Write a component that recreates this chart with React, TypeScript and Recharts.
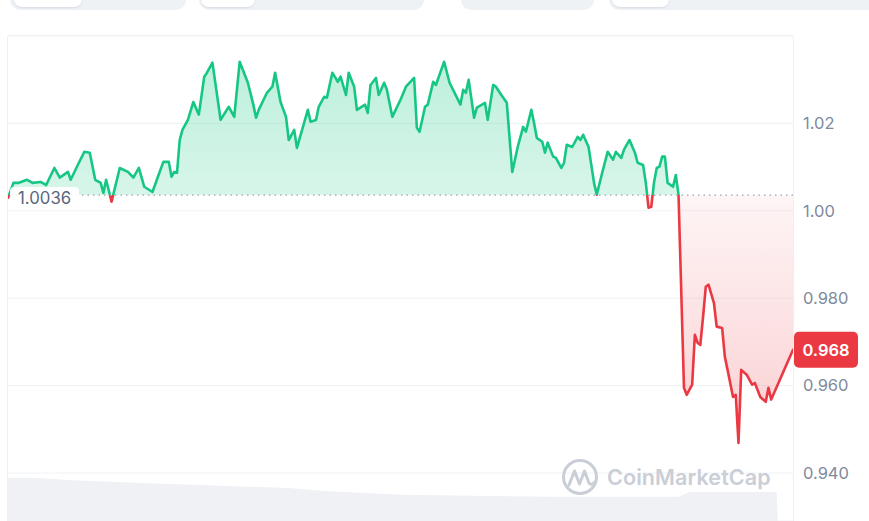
import React from 'react';
import { ComposedChart, Area, XAxis, YAxis, CartesianGrid, ReferenceLine } from 'recharts';

// minutes since start of the 24h window
const times = [
  0, 10, 20, 35, 45, 60, 70, 85, 95, 110, 115, 130, 140, 150, 160, 170, 175, 180, 190, 205,
  220, 230, 240, 250, 265, 275, 285, 295, 300, 305, 310, 315, 320, 330, 340, 350, 360, 365, 375, 390,
  405, 415, 425, 440, 450, 455, 460, 475, 485, 490, 500, 510, 515, 525, 530, 550, 555, 565, 570, 580,
  585, 595, 605, 610, 620, 625, 635, 640, 655, 660, 665, 675, 680, 690, 695, 705, 720, 730, 745, 750,
  755, 765, 770, 780, 785, 800, 810, 830, 835, 840, 845, 855, 860, 875, 880, 890, 895, 905, 915, 925,
  935, 945, 950, 960, 965, 970, 980, 985, 990, 1000, 1005, 1015, 1020, 1025, 1035, 1045, 1050, 1055, 1065, 1075,
  1080, 1090, 1100, 1110, 1115, 1125, 1130, 1140, 1150, 1155, 1165, 1170, 1175, 1180, 1185, 1190, 1195, 1200, 1205, 1210,
  1220, 1225, 1230, 1240, 1245, 1255, 1260, 1265, 1270, 1275, 1280, 1285, 1295, 1300, 1310, 1315, 1320, 1330, 1335, 1340,
  1345, 1355, 1365, 1370, 1380, 1390, 1395, 1400, 1440,
];

const prices = [
  1.0030, 1.0064, 1.0064, 1.0071, 1.0064, 1.0066, 1.0059, 1.0098, 1.0076, 1.0089, 1.0071, 1.0110, 1.0135, 1.0133, 1.0071, 1.0064, 1.0041, 1.0071, 1.0021, 1.0098,
  1.0089, 1.0076, 1.0098, 1.0055, 1.0043, 1.0078, 1.0112, 1.0112, 1.0078, 1.0089, 1.0087, 1.0162, 1.0185, 1.0208, 1.0249, 1.0220, 1.0307, 1.0316, 1.0339, 1.0208,
  1.0238, 1.0215, 1.0341, 1.0293, 1.0243, 1.0213, 1.0231, 1.0270, 1.0284, 1.0316, 1.0249, 1.0215, 1.0162, 1.0185, 1.0144, 1.0231, 1.0204, 1.0208, 1.0238, 1.0261,
  1.0259, 1.0316, 1.0295, 1.0307, 1.0265, 1.0316, 1.0284, 1.0231, 1.0243, 1.0224, 1.0288, 1.0304, 1.0265, 1.0293, 1.0277, 1.0215, 1.0254, 1.0284, 1.0304, 1.0190,
  1.0181, 1.0238, 1.0243, 1.0295, 1.0288, 1.0341, 1.0293, 1.0243, 1.0277, 1.0270, 1.0300, 1.0213, 1.0236, 1.0247, 1.0208, 1.0288, 1.0284, 1.0265, 1.0247, 1.0089,
  1.0146, 1.0192, 1.0181, 1.0231, 1.0201, 1.0167, 1.0158, 1.0133, 1.0156, 1.0124, 1.0121, 1.0098, 1.0110, 1.0151, 1.0146, 1.0169, 1.0162, 1.0174, 1.0146, 1.0064,
  1.0037, 1.0087, 1.0135, 1.0117, 1.0135, 1.0121, 1.0140, 1.0162, 1.0133, 1.0110, 1.0105, 1.0064, 1.0007, 1.0009, 1.0064, 1.0098, 1.0101, 1.0124, 1.0124, 1.0064,
  1.0055, 1.0082, 1.0037, 0.9595, 0.9579, 0.9602, 0.9716, 0.9698, 0.9693, 0.9757, 0.9826, 0.9831, 0.9789, 0.9735, 0.9732, 0.9666, 0.9636, 0.9574, 0.9579, 0.9469,
  0.9636, 0.9625, 0.9602, 0.9606, 0.9574, 0.9563, 0.9595, 0.9568, 0.9682,
];

const volTimes = [0, 50, 115, 260, 515, 580, 720, 995, 1230, 1250, 1410, 1412];
const volValues = [8.9, 8.9, 8.4, 7.8, 6.8, 6.2, 5.4, 5.0, 5.0, 6.0, 6.0, 0];

const yTicks = [0.94, 0.96, 0.98, 1.0, 1.02];
const openPrice = 1.0036;
const openLabel = '1.0036';
const lastLabel = '0.968';
const watermark = 'CoinMarketCap';

const priceData = times.map((t, i) => ({ t, p: prices[i] }));
const volData = volTimes.map((t, i) => ({ t, v: volValues[i] }));
const lastPrice = prices[prices.length - 1];

const GREEN = '#16c784';
const RED = '#ea3943';
const FONT = 'Inter, "Noto Sans", sans-serif';

const pMax = Math.max(...prices);
const pMin = Math.min(...prices);
const off = (pMax - openPrice) / (pMax - pMin);

const fmt = (v: number) => (v >= 1 ? v.toFixed(2) : v.toFixed(3));

const OpenLabel = (props: any) => {
  const vb = props.viewBox || {};
  const x = (vb.x ?? 8) + 2;
  const y = vb.y ?? 196;
  return (
    <g>
      <rect x={x} y={y - 8} width={69} height={21} rx={4} fill="#ffffff" fillOpacity={0.92} />
      <text x={x + 8} y={y + 3.5} dy="0.35em" fill="#58667e" fontSize={16.8} fontFamily={FONT}>
        {openLabel}
      </text>
    </g>
  );
};

const BadgeLabel = (props: any) => {
  const vb = props.viewBox || {};
  const x = (vb.x ?? 8) + (vb.width ?? 785) + 1;
  const y = vb.y ?? 349;
  return (
    <g>
      <rect x={x} y={y - 18} width={64} height={36} rx={5} fill={RED} />
      <text x={x + 32} y={y} dy="0.35em" textAnchor="middle" fill="#ffffff" fontSize={16.5} fontWeight={600} fontFamily={FONT}>
        {lastLabel}
      </text>
    </g>
  );
};

const Tab = ({ left, width, inner }: { left: number; width: number; inner?: [number, number] }) => (
  <>
    <div style={{ position: 'absolute', left, top: -12, width, height: 21.5, background: '#eff2f5', borderRadius: 10 }} />
    {inner && (
      <div
        style={{
          position: 'absolute',
          left: inner[0],
          top: -12,
          width: inner[1],
          height: 19,
          background: '#ffffff',
          borderRadius: 8,
          boxShadow: '0 1px 2px rgba(88,102,126,0.15)',
        }}
      />
    )}
  </>
);

export default function App() {
  return (
    <div style={{ position: 'absolute', left: 0, top: 0, width: 869, height: 521, overflow: 'hidden', background: '#fff', fontFamily: FONT }}>
      <Tab left={10} width={176} inner={[14, 68]} />
      <Tab left={199} width={225} inner={[201, 54]} />
      <Tab left={461} width={133} />
      <Tab left={609} width={280} inner={[612, 57]} />
      <div
        style={{
          position: 'absolute',
          left: 7,
          top: 35,
          width: 787,
          height: 520,
          boxSizing: 'border-box',
          borderTop: '1px solid #eceff3',
          borderLeft: '1px solid #eceff3',
          borderRight: '1px solid #eceff3',
          borderRadius: '4px 4px 0 0',
        }}
      />
      <div style={{ position: 'absolute', left: 0, top: 0 }}>
        <ComposedChart width={869} height={521} data={priceData} margin={{ top: 36, right: 0, left: 8, bottom: 0 }}>
          <defs>
            <linearGradient id="strokeGrad" x1="0" y1="0" x2="0" y2="1">
              <stop offset={0} stopColor={GREEN} />
              <stop offset={off} stopColor={GREEN} />
              <stop offset={off} stopColor={RED} />
              <stop offset={1} stopColor={RED} />
            </linearGradient>
            <linearGradient id="fillGrad" x1="0" y1="0" x2="0" y2="1">
              <stop offset={0} stopColor={GREEN} stopOpacity={0.28} />
              <stop offset={off} stopColor={GREEN} stopOpacity={0.17} />
              <stop offset={off} stopColor={RED} stopOpacity={0.05} />
              <stop offset={1} stopColor={RED} stopOpacity={0.24} />
            </linearGradient>
          </defs>
          <CartesianGrid vertical={false} stroke="#eff2f5" strokeWidth={1} />
          <XAxis dataKey="t" type="number" domain={[0, 1440]} allowDataOverflow hide />
          <YAxis
            orientation="right"
            width={76}
            domain={[0.92902, 1.04]}
            allowDataOverflow
            ticks={yTicks}
            tickFormatter={fmt}
            axisLine={false}
            tickLine={false}
            tickSize={0}
            tickMargin={10}
            tick={{ fill: '#808a9d', fontSize: 16.5, fontFamily: FONT }}
          />
          <YAxis yAxisId="vol" hide domain={[0, 100]} />
          <Area
            yAxisId="vol"
            data={volData}
            dataKey="v"
            type="linear"
            stroke="none"
            fill="#eff1f5"
            fillOpacity={1}
            isAnimationActive={false}
            dot={false}
            activeDot={false}
          />
          <ReferenceLine y={openPrice} stroke="#9aa3b5" strokeDasharray="1.5 4" strokeWidth={1.3} />
          <Area
            dataKey="p"
            type="linear"
            baseValue={openPrice}
            stroke="url(#strokeGrad)"
            strokeWidth={2.6}
            strokeLinejoin="round"
            strokeLinecap="round"
            fill="url(#fillGrad)"
            fillOpacity={1}
            isAnimationActive={false}
            dot={false}
            activeDot={false}
          />
          <ReferenceLine y={openPrice} stroke="none" strokeOpacity={0} label={OpenLabel} />
          <ReferenceLine y={lastPrice} stroke="none" strokeOpacity={0} label={BadgeLabel} />
        </ComposedChart>
      </div>
      <div style={{ position: 'absolute', left: 561, top: 458, display: 'flex', alignItems: 'center', pointerEvents: 'none' }}>
        <svg width={38} height={38} viewBox="0 0 38 38">
          <circle cx={19} cy={19} r={16.5} fill="none" stroke="#c9ced7" strokeWidth={3} />
          <path
            d="M8 27 L13.5 13 L18.5 26 L23.5 13 L28 25 Q30 28 34 24"
            fill="none"
            stroke="#c9ced7"
            strokeWidth={3}
            strokeLinecap="round"
            strokeLinejoin="round"
          />
        </svg>
        <span style={{ marginLeft: 8, fontSize: 21.5, fontWeight: 600, color: '#c9ced7', letterSpacing: 0.1 }}>{watermark}</span>
      </div>
    </div>
  );
}
